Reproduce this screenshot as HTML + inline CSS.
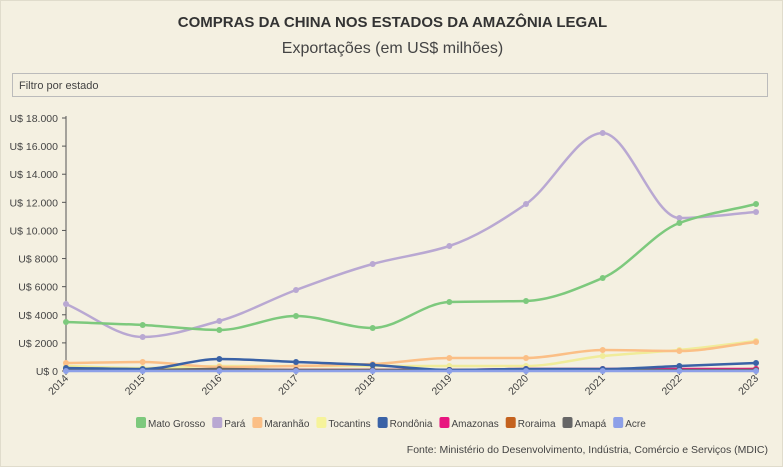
<!DOCTYPE html>
<html><head><meta charset="utf-8"><style>
body{margin:0;background:#fff;font-family:"Liberation Sans",sans-serif}
#w{position:relative;width:781px;height:465px;background:#f4f0e1;border:1px solid #e0dccc}
.t{position:absolute;left:0;width:783px;text-align:center;color:#333}
#f{position:absolute;left:11px;top:72px;width:756px;height:24px;border:1px solid #bbb;background:#f4f0e1;font-size:11px;color:#444;line-height:24px;padding-left:6px;box-sizing:border-box}
</style></head><body><div id="w">
<div class="t" style="top:13px;font-weight:bold;font-size:15px">COMPRAS DA CHINA NOS ESTADOS DA AMAZÔNIA LEGAL</div>
<div class="t" style="top:39px;font-size:16px;color:#444">Exportações (em US$ milhões)</div>
<div id="f">Filtro por estado</div>
<svg id="s" width="783" height="467" style="position:absolute;left:-1px;top:-1px" font-family="Liberation Sans, sans-serif"></svg>
</div>
<script>
var s=document.getElementById('s'),h='';
var X=i=>66+i*76.67, Y=v=>371-v*253/18000;
for(var k=0;k<=9;k++){var v=k*2000,y=Y(v);h+=`<line x1="62" x2="66" y1="${y}" y2="${y}" stroke="#555"/><text x="58" y="${y+4}" font-size="10.5" fill="#444" text-anchor="end">U$ ${v>=10000?(v/1000).toFixed(3):v}</text>`;}
h+=`<line x1="66" x2="66" y1="116" y2="371" stroke="#555"/>`;
for(var i=0;i<10;i++){var x=X(i);h+=`<line x1="${x}" x2="${x}" y1="371" y2="375" stroke="#555"/><text transform="translate(${x+3},379) rotate(-45)" font-size="10.5" fill="#444" text-anchor="end">${2014+i}</text>`;}
var D=[
['#f0ec9a',[366,368,366,366,366,366,366,356,350,341]],
['#fbbf86',[363,362,367,366,364,358,358,350,351,342]],
['#b9a8d2',[304,337,321,290,264,246,204,133,218,212]],
['#7dc97d',[322,325,330,316,328,302,301,278,223,204]],
['#c4621e',[370,370,370,370,370,370,370,370,370,369]],
['#e8157f',[370,370,370,370,370,370,369,369,369,369]],
['#666',[369,370,369,370,370,370,370,370,370,370]],
['#3a62a6',[368,369,359,362,365,370,369,369,366,363]],
['#8da0e8',[371,371,371,371,371,371,371,371,371,371]]];
D.forEach(d=>{var p=d[1],n=p.length,m=[],dl=[];
for(var i=0;i<n-1;i++)dl.push((p[i+1]-p[i]));
m[0]=dl[0];m[n-1]=dl[n-2];
for(var i=1;i<n-1;i++)m[i]=dl[i-1]*dl[i]<=0?0:2/(1/dl[i-1]+1/dl[i]);
var P=`M${X(0)},${p[0]}`;
for(var i=0;i<n-1;i++){P+=`C${X(i)+25.56},${p[i]+m[i]/3} ${X(i+1)-25.56},${p[i+1]-m[i+1]/3} ${X(i+1)},${p[i+1]}`;}
h+=`<path d="${P}" fill="none" stroke="${d[0]}" stroke-width="2.5"/>`;
p.forEach((y,i)=>h+=`<circle cx="${X(i)}" cy="${y}" r="3" fill="${d[0]}"/>`);});
h+=`<g id="lg"></g><text x="768" y="453" font-size="10.5" fill="#444" text-anchor="end">Fonte: Ministério do Desenvolvimento, Indústria, Comércio e Serviços (MDIC)</text>`;
s.innerHTML=h;
var L=[['#7dc97d','Mato Grosso'],['#b9a8d2','Pará'],['#fbbf86','Maranhão'],['#f6f39a','Tocantins'],['#3a62a6','Rondônia'],['#e8157f','Amazonas'],['#c4621e','Roraima'],['#666','Amapá'],['#8da0e8','Acre']];
var g=document.getElementById('lg'),NS='http://www.w3.org/2000/svg',lx=136;
L.forEach(l=>{var r=document.createElementNS(NS,'rect');r.setAttribute('x',lx);r.setAttribute('y',417);r.setAttribute('width',10);r.setAttribute('height',11);r.setAttribute('rx',2);r.setAttribute('fill',l[0]);g.appendChild(r);
var t=document.createElementNS(NS,'text');t.setAttribute('x',lx+12);t.setAttribute('y',427);t.setAttribute('font-size',10);t.setAttribute('fill','#444');t.textContent=l[1];g.appendChild(t);
lx+=12+t.getComputedTextLength()+7;});
</script></body></html>
